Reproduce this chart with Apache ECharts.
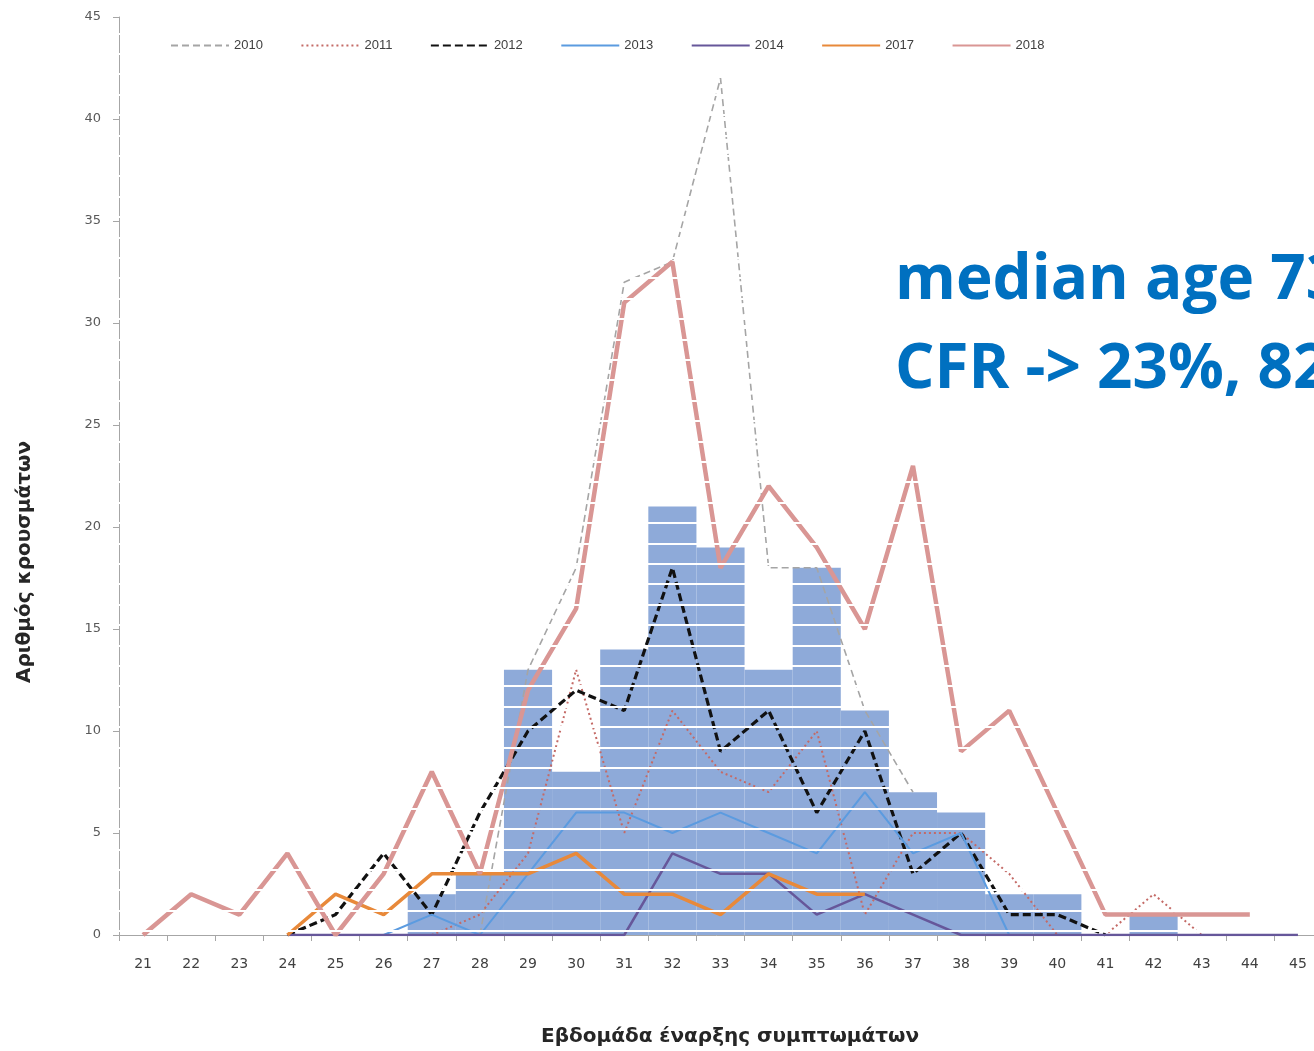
<!DOCTYPE html>
<html>
<head>
<meta charset="utf-8">
<script src="https://cdn.jsdelivr.net/npm/echarts@6/dist/echarts.min.js"></script>
<style>
  html, body { margin: 0; padding: 0; background: #fff; }
  #chart { width: 1314px; height: 1051px; }
</style>
</head>
<body>
<div id="chart"></div>
<script>
const weeks = ['21', '22', '23', '24', '25', '26', '27', '28', '29', '30', '31', '32', '33',
  '34', '35', '36', '37', '38', '39', '40', '41', '42', '43', '44', '45']
const yTicks = [0, 5, 10, 15, 20, 25, 30, 35, 40, 45]

// weekly cases (bars), week 21..45
const barCases = [0, 0, 0, 0, 0, 0, 2, 3, 13, 8, 14, 21, 19, 13, 18, 11, 7, 6, 2, 2, 0, 1, 0, 0, 0]

// earlier seasons, same weeks (null = no point)
const y2010 = [null, null, null, null, null, null, null, 0, 13, 18, 32, 33, 42, 18, 18, 11, 7, null, null, null, null, null, null, null, null]
const y2011 = [null, null, null, null, null, null, 0, 1, 4, 13, 5, 11, 8, 7, 10, 1, 5, 5, 3, 0, 0, 2, 0, null, null]
const y2012 = [null, null, null, 0, 1, 4, 1, 6, 10, 12, 11, 18, 9, 11, 6, 10, 3, 5, 1, 1, 0, null, null, null, null]
const y2013 = [null, null, null, null, null, 0, 1, 0, 3, 6, 6, 5, 6, 5, 4, 7, 4, 5, 0, null, null, null, null, null, null]
const y2014 = [null, null, null, 0, 0, 0, 0, 0, 0, 0, 0, 4, 3, 3, 1, 2, 1, 0, 0, 0, 0, 0, 0, 0, 0]
const y2017 = [null, null, null, 0, 2, 1, 3, 3, 3, 4, 2, 2, 1, 3, 2, 2, null, null, null, null, null, null, null, null, null]
const y2018 = [0, 2, 1, 4, 0, 3, 8, 3, 12, 16, 31, 33, 18, 22, 19, 15, 23, 9, 11, 6, 1, 1, 1, 1, null]

const yTitle = 'Αριθμός κρουσμάτων'
const xTitle = 'Εβδομάδα έναρξης συμπτωμάτων'
const note1 = 'median age 73'
const note2 = 'CFR -> 23%, 82'

const labelFont = 'DejaVu Sans'

const lineSeries = (name, data, color, width, type) => ({
  name: name,
  type: 'line',
  data: data,
  symbol: 'none',
  smooth: false,
  connectNulls: false,
  lineStyle: { color: color, width: width, type: type },
  itemStyle: { color: color },
  emphasis: { disabled: true },
})

const chart = echarts.init(document.getElementById('chart'), null, { renderer: 'canvas' })

const option = {
  animation: false,
  backgroundColor: '#fff',
  grid: [
    { left: 119, top: 17, width: 1203, height: 918, outerBoundsMode: 'none', containLabel: false },
    // second grid only carries the thin white rules that cross the plot
    { left: 119, top: 13, width: 1203, height: 918, outerBoundsMode: 'none', containLabel: false },
  ],
  legend: {
    data: ['2010', '2011', '2012', '2013', '2014', '2017', '2018'],
    left: 165,
    top: 34,
    itemWidth: 58,
    itemHeight: 12,
    itemGap: 37.5,
    z: 20,
    itemStyle: { opacity: 0 },
    textStyle: { fontFamily: 'Liberation Sans', fontSize: 13, color: '#404040' },
  },
  xAxis: [
    {
      type: 'category',
      data: weeks,
      boundaryGap: true,
      axisLine: { lineStyle: { color: '#a6a6a6', width: 1 } },
      axisTick: { show: true, length: 6, lineStyle: { color: '#a6a6a6' } },
      axisLabel: { margin: 22, fontFamily: labelFont, fontSize: 14, color: '#404040' },
      splitLine: { show: false },
    },
    { type: 'category', data: weeks, gridIndex: 1, show: false },
  ],
  yAxis: [
    {
      type: 'value',
      min: yTicks[0],
      max: yTicks[yTicks.length - 1],
      interval: 5,
      axisLine: { show: true, lineStyle: { color: '#a6a6a6', width: 1 } },
      axisTick: { show: true, length: 6, lineStyle: { color: '#a6a6a6' } },
      axisLabel: { margin: 18, fontFamily: labelFont, fontSize: 13, color: '#595959' },
      splitLine: { show: false },
    },
    {
      type: 'value',
      gridIndex: 1,
      min: 0,
      max: 45,
      interval: 1,
      z: 10,
      axisLine: { show: false },
      axisTick: { show: false },
      axisLabel: { show: false },
      splitLine: { show: true, showMinLine: true, showMaxLine: false, lineStyle: { color: '#ffffff', width: 1.8 } },
    },
  ],
  series: [
    {
      name: 'cases',
      type: 'bar',
      data: barCases,
      barCategoryGap: '0%',
      itemStyle: { color: '#8eaad9' },
      emphasis: { disabled: true },
    },
    lineSeries('2010', y2010, '#a5a5a5', 1.6, [7, 4]),
    lineSeries('2011', y2011, '#c46a66', 2, [2, 3]),
    lineSeries('2012', y2012, '#111111', 3.2, [8, 4]),
    lineSeries('2013', y2013, '#5b9be0', 2, 'solid'),
    lineSeries('2014', y2014, '#66579a', 2.5, 'solid'),
    lineSeries('2017', y2017, '#e8893a', 3.5, 'solid'),
    lineSeries('2018', y2018, '#d99694', 4.5, 'solid'),
  ],
  graphic: [
    {
      type: 'text',
      x: 25,
      y: 562,
      rotation: Math.PI / 2,
      z: 100,
      style: {
        text: yTitle,
        font: 'bold 20px "DejaVu Sans"',
        fill: '#262626',
        align: 'center',
        verticalAlign: 'middle',
      },
    },
    {
      type: 'text',
      x: 730,
      y: 1037,
      z: 100,
      style: {
        text: xTitle,
        font: 'bold 20px "DejaVu Sans"',
        fill: '#262626',
        align: 'center',
        verticalAlign: 'middle',
      },
    },
    {
      type: 'text',
      x: 895,
      y: 250,
      z: 100,
      style: {
        text: note1,
        font: 'bold 62px "Open Sans"',
        fill: '#0070c0',
        align: 'left',
        verticalAlign: 'top',
      },
    },
    {
      type: 'text',
      x: 895,
      y: 339,
      z: 100,
      style: {
        text: note2,
        font: 'bold 62px "Open Sans"',
        fill: '#0070c0',
        align: 'left',
        verticalAlign: 'top',
      },
    },
  ],
}

chart.setOption(option)
</script>
</body>
</html>
